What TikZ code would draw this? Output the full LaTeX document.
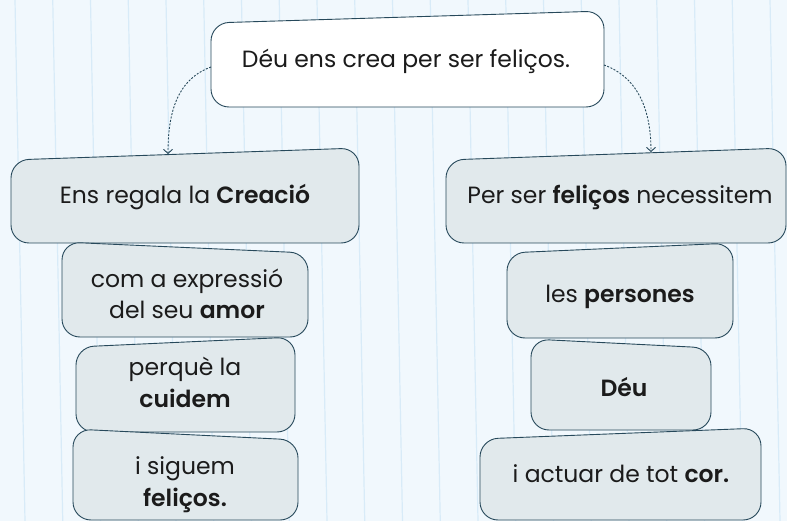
\documentclass[tikz,border=0pt]{standalone}
\usepackage{fontspec}
\setmainfont{Poppins}[BoldFont={Poppins SemiBold}]
\usetikzlibrary{arrows.meta}

\definecolor{paper}{HTML}{F1F8FD}
\definecolor{ruling}{HTML}{D8EBF8}
\definecolor{tilefill}{HTML}{E1E9EC}
\definecolor{tileedge}{HTML}{27495B}
\definecolor{ink}{HTML}{1B1B1B}

\tikzset{
  tile/.style={draw=tileedge, fill=tilefill, line width=0.9pt, rounded corners=18pt},
  rootile/.style={tile, fill=white},
  txt/.style={font=\fontsize{23.5}{32}\selectfont, align=center, text=ink, anchor=base, inner sep=0pt},
  link/.style={draw=tileedge, dash pattern=on 2pt off 1.5pt, line width=0.9pt, -{Straight Barb[length=4pt,width=9pt]}}
}

% #1 style, #2 left, #3 right, #4 top y at left, #5 top y at right, #6 bottom y
\newcommand{\tileshape}[6]{%
  \draw[#1] (#2,#6) -- (#2,#4) -- (#3,#5) -- (#3,#6) -- cycle;
}

\begin{document}
\begin{tikzpicture}[x=1pt,y=-1pt]
\fill[paper] (0,0) rectangle (787,521);
\useasboundingbox (0,0) rectangle (787,521);
\foreach \k in {0,...,20}{
  \draw[ruling, line width=1.2pt] (15+37.75*\k,0) -- (25+37.75*\k,521);
}

% root
\tileshape{rootile}{211}{604}{23}{11}{107}
\node[txt] (arrel) at (406,68) {Déu ens crea per ser feliços.};
\coordinate (arrel-w) at (211,67);
\coordinate (arrel-e) at (604,65);

% left column (base = last line)
\tileshape{tile}{11}{359}{160}{148}{243}
\node[txt] (creacio) at (185,204) {Ens regala la \textbf{Creació}};
\coordinate (creacio-n) at (168,154);
\tileshape{tile}{62}{308}{242}{253}{337}
\node[txt] (amor) at (187,319) {com a expressió\\del seu \textbf{amor}};
\tileshape{tile}{76}{295}{347}{337}{432}
\node[txt] (cuidem) at (185,407) {perquè la\\\textbf{cuidem}};
\tileshape{tile}{73}{298}{429}{440}{520}
\node[txt] (siguem) at (185,506) {i siguem\\\textbf{feliços.}};

% right column
\tileshape{tile}{446}{786}{160}{148}{243}
\node[txt] (necessitem) at (620,204) {Per ser \textbf{feliços} necessitem};
\coordinate (necessitem-n) at (651,152);
\tileshape{tile}{507}{733}{253}{243}{338}
\node[txt] (persones) at (620,302) {les \textbf{persones}};
\tileshape{tile}{531}{711}{339}{348}{430}
\node[txt] (deu) at (624,396) {\textbf{Déu}};
\tileshape{tile}{480}{761}{439}{428}{520}
\node[txt] (cor) at (621,482) {i actuar de tot \textbf{cor.}};

\draw[link] (arrel-w) to[out=200,in=90] (creacio-n);
\draw[link] (arrel-e) to[out=-20,in=90] (necessitem-n);
\end{tikzpicture}
\end{document}
